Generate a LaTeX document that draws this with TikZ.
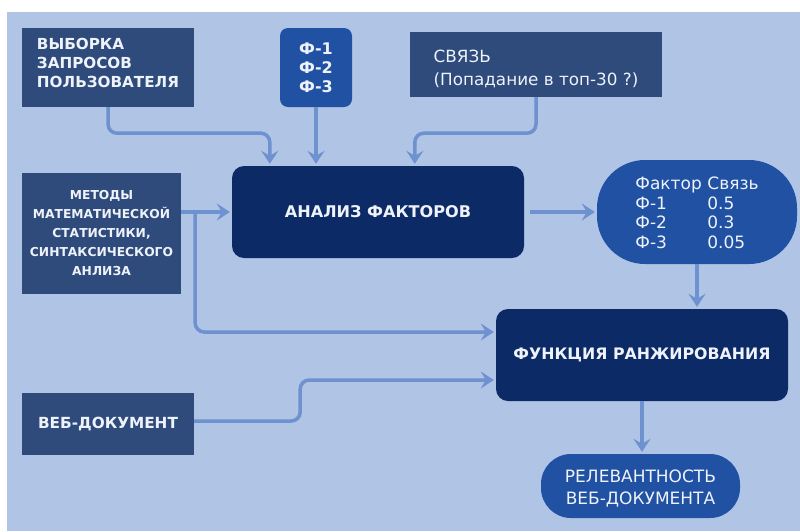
\documentclass[tikz,border=0pt]{standalone}
\usepackage{fontspec}
\setmainfont{DejaVu Sans}
\usetikzlibrary{arrows.meta,calc}

\definecolor{bgblue}{HTML}{B0C4E6}
\definecolor{slatebox}{HTML}{2F4B7C}
\definecolor{midblue}{HTML}{2151A3}
\definecolor{navyblue}{HTML}{0C2A66}
\definecolor{linkblue}{HTML}{6E91CF}
\definecolor{lighttext}{HTML}{EEF2FA}

\tikzset{
  inputbox/.style={fill=slatebox, text=lighttext, inner sep=0pt},
  factorbox/.style={fill=midblue, text=lighttext, inner sep=0pt},
  processbox/.style={fill=navyblue, text=lighttext, inner sep=0pt, rounded corners=12pt},
  caption/.style={text=lighttext, inner sep=0pt},
  conn/.style={draw=linkblue, line width=3.5pt, rounded corners=9pt,
    -{Stealth[length=13pt,width=17pt,inset=5pt]}, shorten >=2pt},
}

\begin{document}
\begin{tikzpicture}[x=1pt,y=-1pt]
\useasboundingbox (0,0) rectangle (800,531);
\fill[white] (0,0) rectangle (800,531);
\fill[bgblue] (7,12) rectangle (800,531);

% input boxes
\node[inputbox, minimum width=172pt, minimum height=79pt] (vyb) at (108,67.5) {};
\node[caption, align=left, font=\fontsize{15.2}{19}\selectfont\bfseries] (vybtext)
  at ($(vyb.center)+(0,-4.5)$) {ВЫБОРКА\\ЗАПРОСОВ\\ПОЛЬЗОВАТЕЛЯ};
\node[factorbox, rounded corners=8pt, minimum width=72pt, minimum height=79pt, align=center,
  font=\fontsize{16}{19}\selectfont\bfseries] (phi) at (316,67.5)
  {Ф-1\\Ф-2\\Ф-3};
\node[inputbox, minimum width=252pt, minimum height=65pt] (svyaz) at (536,64.5) {};
\node[caption, align=left, font=\fontsize{16.8}{23}\selectfont] (svyaztext)
  at ($(svyaz.center)+(0,4)$) {СВЯЗЬ\\(Попадание в топ-30 ?)};
\node[inputbox, minimum width=159pt, minimum height=121pt, align=center,
  font=\fontsize{12.3}{19}\selectfont\bfseries] (metody) at (101.5,233.5)
  {МЕТОДЫ\\МАТЕМАТИЧЕСКОЙ\\СТАТИСТИКИ,\\СИНТАКСИЧЕСКОГО\\АНЛИЗА};
\node[inputbox, minimum width=172pt, minimum height=62pt,
  font=\fontsize{15.3}{19}\selectfont\bfseries] (web) at (108,424)
  {ВЕБ-ДОКУМЕНТ};

% processing boxes
\node[processbox, minimum width=292pt, minimum height=92pt,
  font=\fontsize{16.1}{19}\selectfont\bfseries] (analiz) at (378,212)
  {АНАЛИЗ ФАКТОРОВ};
\node[processbox, minimum width=292pt, minimum height=92pt,
  font=\fontsize{15.8}{19}\selectfont\bfseries] (func) at (642,355)
  {ФУНКЦИЯ РАНЖИРОВАНИЯ};

% results
\node[factorbox, rounded corners=48pt, minimum width=200pt, minimum height=104pt] (factor) at (697,212) {};
\node[caption, font=\fontsize{17}{19.6}\selectfont] (factortext) at ($(factor.center)+(0,3)$)
  {\begin{tabular}{@{}p{72pt}@{}l@{}}Фактор&Связь\\Ф-1&0.5\\Ф-2&0.3\\Ф-3&0.05\end{tabular}};
\node[factorbox, rounded corners=30pt, minimum width=199pt, minimum height=64pt] (relev) at (640.5,486) {};
\node[caption, align=center, font=\fontsize{17}{22}\selectfont] (relevtext)
  at ($(relev.center)+(0,3)$) {РЕЛЕВАНТНОСТЬ\\ВЕБ-ДОКУМЕНТА};

% connectors
\draw[conn] (vyb.south) -- ++(0,26) -| ($(analiz.north west)+(38,0)$);
\draw[conn] (phi.south) -- (phi.south |- analiz.north);
\draw[conn] (svyaz.south) -- ++(0,36) -| ($(analiz.north west)+(183,0)$);
\draw[conn] (metody.east |- analiz.west) -- (analiz.west);
\coordinate (branch) at ($(metody.east |- analiz.west)+(14,0)$);
\draw[conn] (branch) |- ($(func.west)+(0,-23)$);
\draw[conn, shorten <=6pt] (analiz.east) -- (factor.west);
\draw[conn] (factor.south) -- (factor.south |- func.north);
\draw[conn] ($(web.east)+(0,-3)$) -- ++(106,0) |- ($(func.west)+(0,25)$);
\draw[conn] (func.south) -- (func.south |- relev.north);
\end{tikzpicture}
\end{document}
